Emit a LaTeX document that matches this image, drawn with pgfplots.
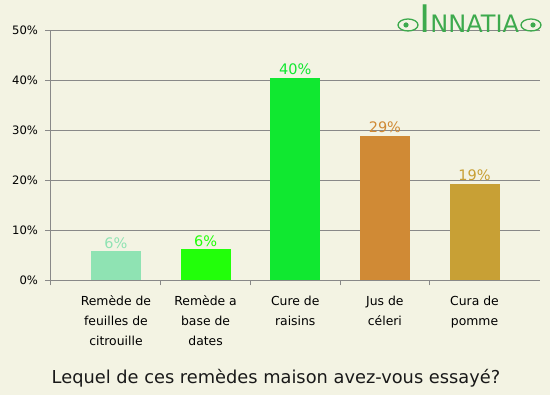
\documentclass[border=0pt]{standalone}
\usepackage{pgfplots}
\pgfplotsset{compat=1.18}
\usepackage{fontspec}
\setmainfont{DejaVu Sans}
\definecolor{bg}{HTML}{F3F3E3}
\definecolor{gridc}{HTML}{888888}
\definecolor{c1}{HTML}{8FE3B3}
\definecolor{c2}{HTML}{22FF0A}
\definecolor{c3}{HTML}{10E830}
\definecolor{c4}{HTML}{D08A35}
\definecolor{c5}{HTML}{C8A035}
\definecolor{logo}{HTML}{3DAA4D}
\begin{document}
\begin{tikzpicture}[x=1pt,y=1pt]
\fill[bg] (0,0) rectangle (550,395);
\useasboundingbox (0,0) rectangle (550,395);
\begin{axis}[
  at={(50.5pt,114.7pt)}, anchor=south west,
  scale only axis, width=489.5pt, height=250pt,
  xmin=-0.73, xmax=4.73, ymin=0, ymax=50,
  axis x line*=bottom, axis y line*=left,
  axis line style={gridc, line width=1pt},
  ytick={0,10,20,30,40,50},
  yticklabels={0\%,10\%,20\%,30\%,40\%,50\%},
  ymajorgrids, grid style={gridc, line width=1pt},
  tick style={gridc, line width=1pt},
  major tick length=5pt,
  tick align=outside,
  y tick label style={font=\fontsize{11.6}{13}\selectfont, text=black, xshift=-4pt},
  xtick={-0.73,0.5,1.5,2.5,3.5},
  xticklabels={},
  extra x ticks={0,1,2,3,4},
  extra x tick labels={{Remède de\\feuilles de\\citrouille},{Remède a\\base de\\dates},{Cure de\\raisins},{Jus de\\céleri},{Cura de\\pomme}},
  extra x tick style={major tick length=0pt, grid=none,
     tick label style={align=center, font=\fontsize{12.4}{20}\selectfont, text=black, anchor=north, yshift=-12pt}},
  ybar, bar width=50pt, bar shift=0pt,
  nodes near coords style={anchor=base, yshift=3pt, font=\fontsize{14.5}{16}\selectfont},
  clip=false,
]
\addplot[fill=c1, draw=none, nodes near coords={6\%}, nodes near coords style={text=c1}] coordinates {(0,5.8)};
\addplot[fill=c2, draw=none, nodes near coords={6\%}, nodes near coords style={text=c2}] coordinates {(1,6.2)};
\addplot[fill=c3, draw=none, nodes near coords={40\%}, nodes near coords style={text=c3}] coordinates {(2,40.5)};
\addplot[fill=c4, draw=none, nodes near coords={29\%}, nodes near coords style={text=c4}] coordinates {(3,28.9)};
\addplot[fill=c5, draw=none, nodes near coords={19\%}, nodes near coords style={text=c5}] coordinates {(4,19.3)};
\end{axis}
\node[anchor=base, font=\fontsize{17.8}{19}\selectfont, text=black!90] at (276,11) {Lequel de ces remèdes maison avez-vous essayé?};
\node[anchor=base west, inner sep=0pt, text=logo] at (419,362.3) {{\fontsize{38}{38}\selectfont I}{\fontsize{24}{25}\selectfont NNATIA}};
\begin{scope}[logo, line width=1.3pt]
  \draw (408,370) ellipse (10pt and 6pt);
  \fill (406,370) circle (2.6pt);
  \draw (531,370) ellipse (10pt and 6pt);
  \fill (533,370) circle (2.6pt);
\end{scope}
\end{tikzpicture}
\end{document}
